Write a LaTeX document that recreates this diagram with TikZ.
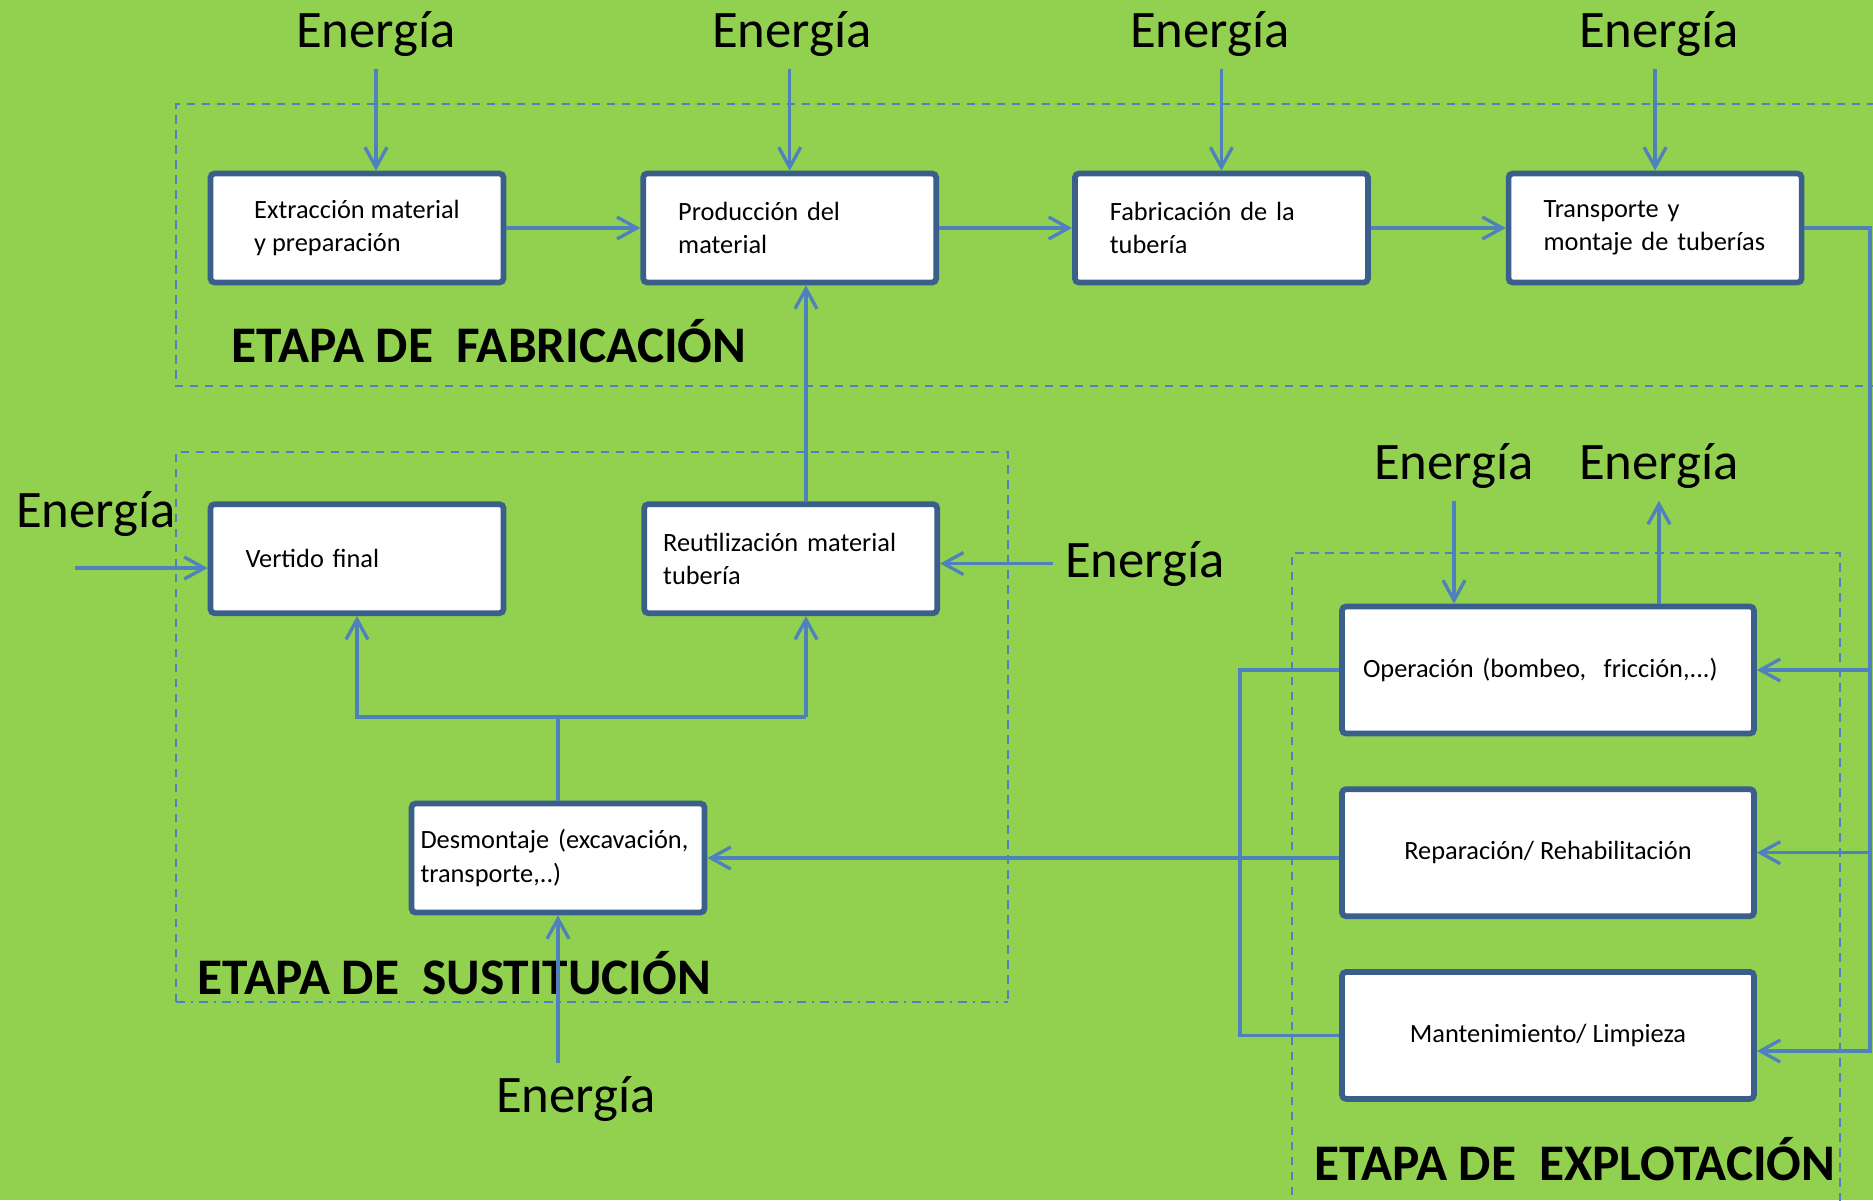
\documentclass[tikz,border=0pt]{standalone}
\usepackage{fontspec}
\setmainfont{Carlito}
\usetikzlibrary{positioning}
\usetikzlibrary{arrows.meta}
\definecolor{bggreen}{HTML}{92D050}
\definecolor{boxblue}{HTML}{3A5F8B}
\definecolor{flowblue}{HTML}{4F81BD}
\newcommand{\stagewidth}{29.3mm}
\newcommand{\stageheight}{10.9mm}
\newcommand{\opwidth}{41.2mm}
\newcommand{\opheight}{12.7mm}
\newcommand{\stagefont}{\fontsize{7.5}{9.5}\selectfont}
\newcommand{\energyfont}{\fontsize{15}{18}\selectfont}
\newcommand{\etapafont}{\fontsize{14.6}{17}\selectfont\bfseries}

\begin{document}
\begin{tikzpicture}[x=1mm, y=1mm]
\tikzstyle{stage}=[
    draw=boxblue,
    line width=0.57mm,
    fill=white,
    rectangle,
    rounded corners=0.4mm,
    minimum width=\stagewidth,
    minimum height=\stageheight,
    inner sep=0pt,
    font=\stagefont,
    align=left]
\tikzstyle{opstage}=[
    stage,
    minimum width=\opwidth,
    minimum height=\opheight]
\tikzstyle{energy}=[
    font=\energyfont,
    anchor=base,
    inner sep=1.2mm]
\tikzstyle{etapa}=[
    font=\etapafont,
    anchor=base west,
    inner sep=0pt]
\tikzstyle{flowline}=[
    draw=flowblue,
    line width=0.33mm]
\tikzstyle{flow}=[
    flowline,
    -{Straight Barb[length=2mm,width=2.2mm]}]
\tikzstyle{stageframe}=[
    draw=flowblue,
    line width=0.23mm,
    dash pattern=on 0.85mm off 0.65mm]
\tikzstyle{stageframedot}=[
    draw=flowblue,
    line width=0.23mm,
    dash pattern=on 0.9mm off 0.6mm on 0.2mm off 0.6mm]

\useasboundingbox (0,0) rectangle (187.3,-120);
\fill[bggreen] (0,0) rectangle (187.3,-120);

% etapas
\draw[stageframe] (187.5,-10.4) -- (17.6,-10.4) -- (17.6,-38.6) -- (187.5,-38.6);
\draw[stageframe] (17.6,-100.2) -- (17.6,-45.2) -- (100.8,-45.2) -- (100.8,-100.2);
\draw[stageframedot] (17.6,-100.2) -- (100.8,-100.2);
\draw[stageframe] (129.2,-121) -- (129.2,-55.3) -- (184.0,-55.3) -- (184.0,-121);

\node[etapa] (tfab) at (23.1,-36.2) {ETAPA DE~ FABRICACIÓN};
\node[etapa] (tsust) at (19.7,-99.4) {ETAPA DE~ SUSTITUCIÓN};
\node[etapa] (texpl) at (131.4,-118.0) {ETAPA DE~ EXPLOTACIÓN};

% fabricacion
\node[stage] (ext) at (35.7,-22.8) {Extracción material\\y preparación};
\node[stage, text width=22.3mm] (prod) [right = 13.4mm of ext] {Producción del\\material};
\node[stage, text width=22.3mm] (fab) [right = 13.3mm of prod] {Fabricación de la\\tubería};
\node[stage, text width=22.3mm] (trans) [right = 13.5mm of fab] {Transporte y\\montaje de tuberías};

% sustitucion
\node[stage, text width=22.3mm] (vert) [below = 21.6mm of ext] {Vertido final};
\node[stage, text width=25.5mm] (reut) [right = 13.5mm of vert] {Reutilización material\\tubería};
\node[stage, text width=27.5mm] (desm) at (55.8,-85.8) {Desmontaje (excavación,\\transporte,..)};

% explotacion
\node[opstage, text width=37mm] (oper) at (154.8,-67.0) {Operación (bombeo,~ fricción,...)};
\node[opstage, align=center] (rep) [below = 5.0mm of oper] {Reparación/ Rehabilitación};
\node[opstage, align=center] (mant) [below = 5.0mm of rep] {Mantenimiento/ Limpieza};

\node[energy] (e1) at (37.6,-4.7) {Energía};
\node[energy] (e2) at (79.2,-4.7) {Energía};
\node[energy] (e3) at (121.0,-4.7) {Energía};
\node[energy] (e4) at (165.9,-4.7) {Energía};
\node[energy] (e5) at (9.6,-52.7) {Energía};
\node[energy] (e6) at (114.5,-57.7) {Energía};
\node[energy] (e7) at (57.6,-111.2) {Energía};
\node[energy] (e8) at (145.4,-47.9) {Energía};
\node[energy] (e9) at (165.9,-47.9) {Energía};

\coordinate (bus) at (187.0,-105.1);
\coordinate (lbus) at (124.0,-67.0);
\coordinate (split) at (80.6,-71.7);
\coordinate (vin) at (7.5,-56.8);

\draw[flow] (e1.south) -- (e1.south |- ext.north);
\draw[flow] (prod.north |- e2.south) -- (prod.north);
\draw[flow] (fab.north |- e3.south) -- (fab.north);
\draw[flow] (trans.north |- e4.south) -- (trans.north);
\draw[flow] (ext.east) -- (prod.west);
\draw[flow] (prod.east) -- (fab.west);
\draw[flow] (fab.east) -- (trans.west);

\draw[flow] (trans.east) -| (bus) -- (bus -| mant.east);
\draw[flow] (bus |- oper.east) -- (oper.east);
\draw[flow] (bus |- rep.east) -- (rep.east);
\draw[flow] (e8.south) -- (e8.south |- oper.north);
\draw[flow] (e9.south |- oper.north) -- (e9.south);
\draw[flowline] (oper.west) -- (lbus) |- (mant.west);
\draw[flow] (rep.west |- desm.east) -- (desm.east);

\draw[flowline] (desm.north) -- (desm.north |- split);
\draw[flow] (split) -- (split -| vert.south) -- (vert.south);
\draw[flow] (split) -- (split |- reut.south);
\draw[flow] (split |- reut.north) -- (split |- prod.south);
\draw[flow] (vin) -- (vin -| vert.west);
\draw[flow] (e6.west) -- (e6.west -| reut.east);
\draw[flow] (desm.south |- e7.north) -- (desm.south);

\end{tikzpicture}
\end{document}
